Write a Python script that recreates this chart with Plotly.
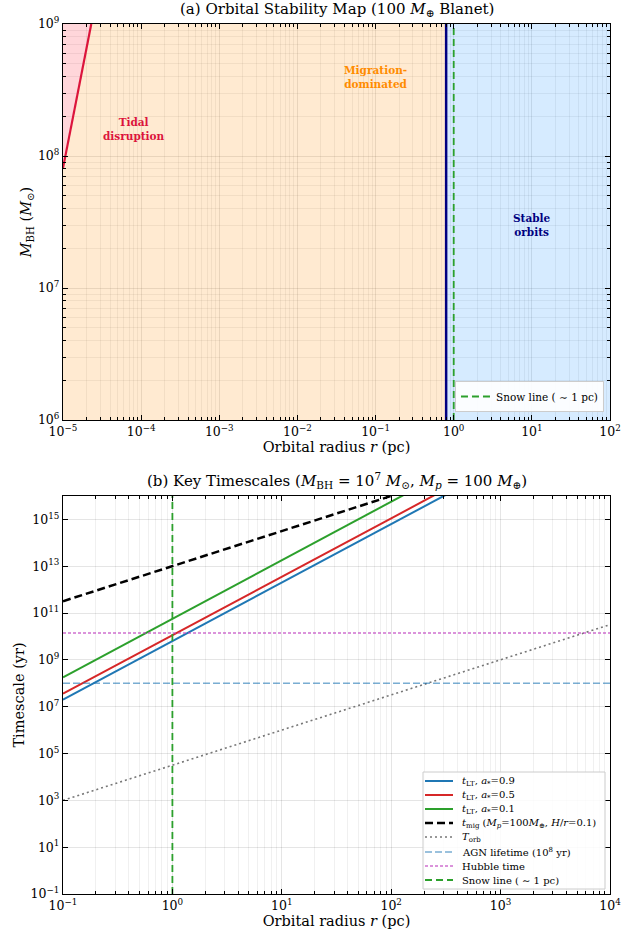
import numpy as np
import plotly.graph_objects as go

# ---------------- data: panel (a) ----------------
tidal_r = [1.0e-5, 2.3e-5]          # pc
tidal_M = [8.1e7, 1.0e9]            # Msun
stable_r = 0.80                     # pc, migration/stable boundary
snow_r = 1.0                        # pc
r_min_a, r_max_a = 1e-5, 1e2
M_min, M_max = 1e6, 1e9

# ---------------- data: panel (b) ----------------
r_b = [0.1, 1, 10, 100, 1000, 10000]
t_lt_09 = [2.0e7, 6.3e9, 2.0e12, 6.3e14, 2.0e17, 6.3e19]
t_lt_05 = [3.6e7, 1.1e10, 3.6e12, 1.1e15, 3.6e17, 1.1e20]
t_lt_01 = [1.8e8, 5.7e10, 1.8e13, 5.7e15, 1.8e18, 5.7e20]
r_mig = [0.1, 1, 10, 100]
t_mig = [3.2e11, 1.0e13, 3.2e14, 1.0e16]
t_orb = [1.0e3, 3.2e4, 1.0e6, 3.2e7, 1.0e9, 3.2e10]
agn_life = 1e8
hubble = 1.4e10
y_min_b, y_max_b = 1e-1, 1e16

SERIF = "DejaVu Serif"

def sup(e):
    s = str(e).replace("-", "\u2212")
    return f"10<sup>{s}</sup>"

fig = go.Figure()

# ---- panel (a) regions ----
fig.add_trace(go.Scatter(
    x=[r_min_a, stable_r, stable_r, tidal_r[1], tidal_r[0], r_min_a],
    y=[M_min, M_min, M_max, tidal_M[1], tidal_M[0], M_min],
    fill="toself", fillcolor="rgba(255,140,0,0.18)", mode="none",
    showlegend=False, hoverinfo="skip", xaxis="x", yaxis="y"))
fig.add_trace(go.Scatter(
    x=[r_min_a, tidal_r[0], tidal_r[1], r_min_a],
    y=[M_max, tidal_M[0], tidal_M[1], M_max],
    fill="toself", fillcolor="rgba(255,30,50,0.18)", mode="none",
    showlegend=False, hoverinfo="skip", xaxis="x", yaxis="y"))
fig.add_trace(go.Scatter(
    x=[stable_r, r_max_a, r_max_a, stable_r, stable_r],
    y=[M_min, M_min, M_max, M_max, M_min],
    fill="toself", fillcolor="rgba(30,144,255,0.18)", mode="none",
    showlegend=False, hoverinfo="skip", xaxis="x", yaxis="y"))
fig.add_trace(go.Scatter(
    x=tidal_r, y=tidal_M, mode="lines", line=dict(color="#DC143C", width=2.2),
    showlegend=False, xaxis="x", yaxis="y"))
fig.add_trace(go.Scatter(
    x=[stable_r, stable_r], y=[M_min, M_max], mode="lines",
    line=dict(color="#000080", width=2.5), showlegend=False, xaxis="x", yaxis="y"))
fig.add_trace(go.Scatter(
    x=[snow_r, snow_r], y=[M_min, M_max], mode="lines",
    line=dict(color="#2ca02c", width=1.8, dash="7px,4px"),
    name="Snow line ( \u223c 1 pc)", legend="legend2", xaxis="x", yaxis="y"))

# ---- panel (b) ----
styles = [
    ("<i>t</i><sub>LT</sub>, <i>a</i><sub>*</sub>=0.9", dict(color="#1f77b4", width=2)),
    ("<i>t</i><sub>LT</sub>, <i>a</i><sub>*</sub>=0.5", dict(color="#d62728", width=2)),
    ("<i>t</i><sub>LT</sub>, <i>a</i><sub>*</sub>=0.1", dict(color="#2ca02c", width=2)),
    ("<i>t</i><sub>mig</sub> (<i>M</i><sub><i>p</i></sub>=100<i>M</i><sub>\u2295</sub>, <i>H</i>/<i>r</i>=0.1)",
     dict(color="black", width=2.5, dash="8px,4px")),
    ("<i>T</i><sub>orb</sub>", dict(color="#777777", width=1.6, dash="2px,3px")),
    ("AGN lifetime (10<sup>8</sup> yr)", dict(color="rgba(31,119,180,0.6)", width=1.4, dash="7px,3px")),
    ("Hubble time", dict(color="rgba(191,63,191,0.75)", width=1.4, dash="3px,2px")),
    ("Snow line ( \u223c 1 pc)", dict(color="#2ca02c", width=1.8, dash="7px,4px")),
]
series_b = [
    (r_b, t_lt_09), (r_b, t_lt_05), (r_b, t_lt_01), (r_mig, t_mig), (r_b, t_orb),
    ([r_b[0], r_b[-1]], [agn_life, agn_life]),
    ([r_b[0], r_b[-1]], [hubble, hubble]),
    ([snow_r, snow_r], [y_min_b, y_max_b]),
]
for (name, st), (xs, ys) in zip(styles, series_b):
    fig.add_trace(go.Scatter(x=xs, y=ys, mode="lines", line=st, name=name,
                             showlegend=False, xaxis="x2", yaxis="y2"))

# ---- custom compact legend for panel (b) (pixel layout -> paper coords) ----
def px2paper_x(px):
    return (px - 63) / 547.0

def px2paper_y(py):
    return (894 - py) / 870.0

shapes = []
annotations = []
shapes.append(dict(type="rect", xref="paper", yref="paper",
                   x0=px2paper_x(423), x1=px2paper_x(605), y0=px2paper_y(889), y1=px2paper_y(772),
                   fillcolor="rgba(255,255,255,0.85)", line=dict(color="#cccccc", width=1), layer="above"))
row_y = [781, 795, 809, 823, 837, 852, 866, 880]
for (name, st), ry in zip(styles, row_y):
    shapes.append(dict(type="line", xref="paper", yref="paper",
                       x0=px2paper_x(425), x1=px2paper_x(453), y0=px2paper_y(ry), y1=px2paper_y(ry),
                       line=dict(color=st["color"], width=st["width"], dash=st.get("dash", "solid")),
                       layer="above"))
    annotations.append(dict(x=px2paper_x(460), y=px2paper_y(ry), xref="paper", yref="paper",
                            xanchor="left", yanchor="middle", text=name, showarrow=False,
                            font=dict(family=SERIF, size=10, color="black")))

# ---- annotations (panel a) ----
ann = [
    dict(x=np.log10(8e-5), y=np.log10(1.6e8), text="<b>Tidal<br>disruption</b>", color="#DC143C"),
    dict(x=np.log10(0.1), y=np.log10(4.0e8), text="<b>Migration-<br>dominated</b>", color="#FF8C00"),
    dict(x=np.log10(10), y=np.log10(3.0e7), text="<b>Stable<br>orbits</b>", color="#000080"),
]
for a in ann:
    annotations.append(dict(x=a["x"], y=a["y"], xref="x", yref="y", text=a["text"], showarrow=False,
                            font=dict(family=SERIF, size=10.5, color=a["color"]), align="center"))
annotations.append(dict(x=0.5, y=1.0, xref="paper", yref="paper", yanchor="bottom", yshift=3,
    text="(a) Orbital Stability Map (100 <i>M</i><sub>\u2295</sub> Blanet)", showarrow=False,
    font=dict(family=SERIF, size=15, color="black")))
annotations.append(dict(x=0.5, y=0.4575, xref="paper", yref="paper", yanchor="bottom", yshift=3,
    text="(b) Key Timescales (<i>M</i><sub>BH</sub> = 10<sup>7</sup> <i>M</i><sub>\u2299</sub>, <i>M</i><sub><i>p</i></sub> = 100 <i>M</i><sub>\u2295</sub>)",
    showarrow=False, font=dict(family=SERIF, size=15, color="black")))

GRID = "rgba(0,0,0,0.10)"
MGRID = "rgba(0,0,0,0.06)"
tickfont = dict(family=SERIF, size=12.5, color="black")

def minor_vals(lo, hi):
    vals = []
    for e in range(lo, hi):
        for m in range(2, 10):
            vals.append(m * 10.0 ** e)
    return vals

common = dict(type="log", showline=True, linecolor="black", linewidth=1.2, mirror="ticks",
              ticks="inside", ticklen=5, tickcolor="black", tickfont=tickfont,
              showgrid=True, gridcolor=GRID, gridwidth=0.8, zeroline=False)

xa_exps = list(range(-5, 3))
ya_exps = list(range(6, 10))
xb_exps = list(range(-1, 5))
yb_exps = list(range(-1, 16, 2))

fig.update_layout(
    width=644, height=940, paper_bgcolor="white", plot_bgcolor="white",
    margin=dict(l=63, r=34, t=24, b=46),
    font=dict(family=SERIF, color="black"),
    xaxis=dict(**common, domain=[0, 1], anchor="y", range=[-5, 2],
               tickvals=[10.0 ** e for e in xa_exps], ticktext=[sup(e) for e in xa_exps],
               minor=dict(tickvals=minor_vals(-5, 2), ticks="inside", ticklen=2.5, tickcolor="black",
                          showgrid=True, gridcolor=MGRID),
               title=dict(text="Orbital radius <i>r</i> (pc)", font=dict(family=SERIF, size=14.5), standoff=2)),
    yaxis=dict(**common, domain=[0.5448, 1], anchor="x", range=[6, 9],
               tickvals=[10.0 ** e for e in ya_exps], ticktext=[sup(e) for e in ya_exps],
               minor=dict(tickvals=minor_vals(6, 9), ticks="inside", ticklen=2.5, tickcolor="black",
                          showgrid=True, gridcolor=MGRID),
               title=dict(text="<i>M</i><sub>BH</sub> (<i>M</i><sub>\u2299</sub>)", font=dict(family=SERIF, size=14.5), standoff=2)),
    xaxis2=dict(**common, domain=[0, 1], anchor="y2", range=[-1, 4],
                tickvals=[10.0 ** e for e in xb_exps], ticktext=[sup(e) for e in xb_exps],
                minor=dict(tickvals=minor_vals(-1, 4), ticks="inside", ticklen=2.5, tickcolor="black",
                           showgrid=True, gridcolor=MGRID),
                title=dict(text="Orbital radius <i>r</i> (pc)", font=dict(family=SERIF, size=14.5), standoff=2)),
    yaxis2=dict(**common, domain=[0, 0.4575], anchor="x2", range=[-1, 16],
                tickvals=[10.0 ** e for e in yb_exps], ticktext=[sup(e) for e in yb_exps],
                title=dict(text="Timescale (yr)", font=dict(family=SERIF, size=14.5), standoff=2)),
    legend2=dict(x=0.989, y=0.554, xanchor="right", yanchor="bottom", bgcolor="rgba(255,255,255,0.9)",
                 bordercolor="#cccccc", borderwidth=1, font=dict(family=SERIF, size=10.5, color="black"),
                 itemwidth=30),
    showlegend=True,
    shapes=shapes,
    annotations=annotations,
)

fig.write_html("out.html")
